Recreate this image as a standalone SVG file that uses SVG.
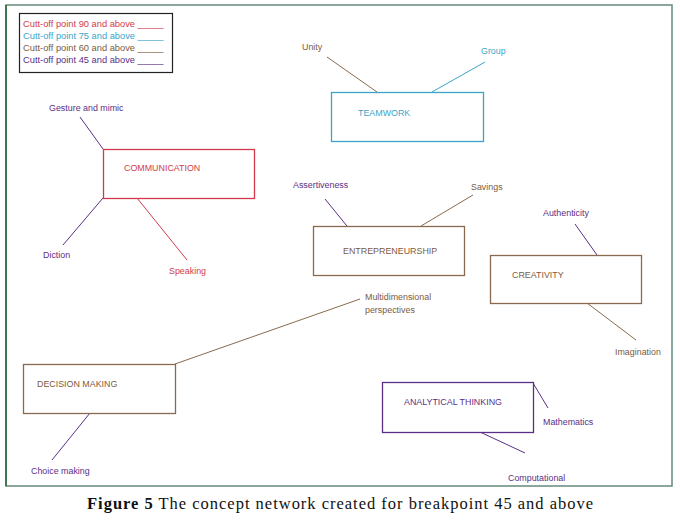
<svg xmlns="http://www.w3.org/2000/svg" width="680" height="525" viewBox="0 0 680 525">
<style>
text{font-family:"Liberation Sans","DejaVu Sans",sans-serif;font-size:8.9px}
.lg{font-size:9.3px}
.r{fill:#d23a4a}.c{fill:#3ba5c9}.b{fill:#7b5b3e}.p{fill:#5b2f85}
.box{fill:#fff;stroke-width:1.3}
.rs{stroke:#d23a4a}.cs{stroke:#3ba5c9}.bs{stroke:#8a6a4e}.ps{stroke:#5b2f85}
#connectors line{stroke-width:1}
.cap{font-family:"Liberation Serif","DejaVu Serif",serif;font-size:16.5px;fill:#111}
</style>
<rect width="680" height="525" fill="#fff"/>
<rect x="6" y="5" width="666" height="481" fill="none" stroke="#6f9282" stroke-width="1.6"/>
<line x1="6" y1="5" x2="6" y2="486" stroke="#2f6b3c" stroke-width="1.6"/>
<g id="legend">
<rect x="19.5" y="13.5" width="153" height="59" fill="#fff" stroke="#222" stroke-width="1.2"/>
<text x="23" y="27" class="lg r">Cutt-off point 90 and above _____</text>
<text x="23" y="39" class="lg c">Cutt-off point 75 and above _____</text>
<text x="23" y="51" class="lg b">Cutt-off point 60 and above _____</text>
<text x="23" y="63" class="lg p">Cutt-off point 45 and above _____</text>
</g>
<g id="connectors">
<line x1="327" y1="57" x2="377" y2="92" class="bs"/>
<line x1="485" y1="62" x2="432" y2="92" class="cs"/>
<line x1="80" y1="117" x2="103" y2="149" class="ps"/>
<line x1="103" y1="198" x2="63" y2="245" class="ps"/>
<line x1="137" y1="198" x2="187" y2="260" class="rs"/>
<line x1="325" y1="199" x2="347" y2="226" class="ps"/>
<line x1="473" y1="195" x2="421" y2="226" class="bs"/>
<line x1="575" y1="224" x2="597" y2="255" class="ps"/>
<line x1="587" y1="303" x2="636" y2="340" class="bs"/>
<line x1="175" y1="364" x2="360" y2="299" class="bs"/>
<line x1="90" y1="413" x2="52" y2="460" class="ps"/>
<line x1="533" y1="383" x2="548" y2="408" class="ps"/>
<line x1="480" y1="432" x2="525" y2="453" class="ps"/>
</g>
<g id="teamwork">
<rect x="331.5" y="92.5" width="152" height="49" class="box cs"/>
<text x="358" y="116" class="c">TEAMWORK</text>
</g>
<g id="unity"><text x="302" y="50" class="b">Unity</text></g>
<g id="group"><text x="481" y="54" class="c">Group</text></g>
<g id="communication">
<rect x="103.5" y="149.5" width="151" height="49" class="box rs"/>
<text x="124" y="171" class="r">COMMUNICATION</text>
</g>
<g id="gesture"><text x="49" y="111" class="p">Gesture and mimic</text></g>
<g id="diction"><text x="43" y="258" class="p">Diction</text></g>
<g id="speaking"><text x="169" y="274" class="r">Speaking</text></g>
<g id="entrepreneurship">
<rect x="313.5" y="226.5" width="151" height="49" class="box bs"/>
<text x="343" y="254" class="b">ENTREPRENEURSHIP</text>
</g>
<g id="assertiveness"><text x="293" y="188" class="p">Assertiveness</text></g>
<g id="savings"><text x="471" y="190" class="b">Savings</text></g>
<g id="creativity">
<rect x="490.5" y="255.5" width="151" height="48" class="box bs"/>
<text x="512" y="278" class="b">CREATIVITY</text>
</g>
<g id="authenticity"><text x="543" y="216" class="p">Authenticity</text></g>
<g id="imagination"><text x="615" y="355" class="b">Imagination</text></g>
<g id="decision">
<rect x="23.5" y="364.5" width="152" height="49" class="box bs"/>
<text x="37" y="387" class="b">DECISION MAKING</text>
</g>
<g id="multidimensional"><text x="365" y="300" class="b">Multidimensional</text><text x="365" y="313" class="b">perspectives</text></g>
<g id="choice"><text x="31" y="474" class="p">Choice making</text></g>
<g id="analytical">
<rect x="382.5" y="382.5" width="151" height="50" class="box ps"/>
<text x="404" y="405" class="p">ANALYTICAL THINKING</text>
</g>
<g id="mathematics"><text x="543" y="425" class="p">Mathematics</text></g>
<g id="computational"><text x="508" y="481" class="p">Computational</text></g>
<text x="87" y="509" textLength="506" lengthAdjust="spacing" class="cap"><tspan font-weight="bold">Figure 5</tspan> The concept network created for breakpoint 45 and above</text>
</svg>
